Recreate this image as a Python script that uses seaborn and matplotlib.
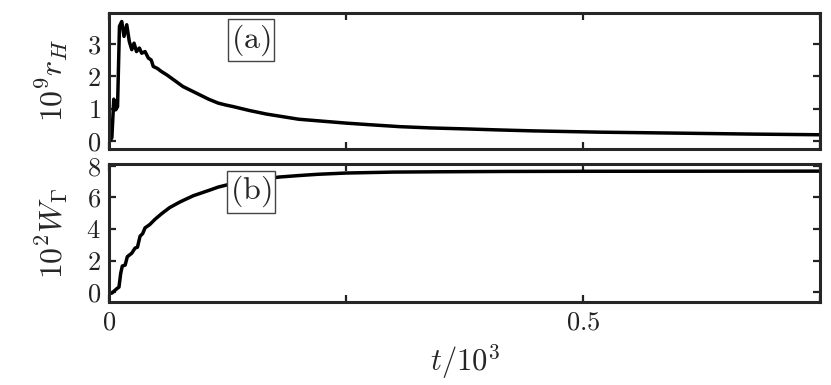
import matplotlib
matplotlib.use("Agg")
import matplotlib.pyplot as plt
import numpy as np
import pandas as pd
import seaborn as sns

# panel (a): 10^9 r_H against t/10^3
t_a = [0.001, 0.003, 0.005, 0.007, 0.009, 0.011, 0.0134, 0.0158, 0.0187, 0.0214,
       0.024, 0.0264, 0.029, 0.032, 0.0345, 0.038, 0.0415, 0.0445, 0.0467, 0.051,
       0.055, 0.061, 0.07, 0.078, 0.087, 0.096, 0.105, 0.115, 0.123, 0.131,
       0.148, 0.166, 0.183, 0.2, 0.225, 0.25, 0.275, 0.307, 0.34, 0.377, 0.41,
       0.447, 0.518, 0.6, 0.68, 0.75]
r_h = [0.0, 0.1, 1.29, 0.96, 1.06, 3.54, 3.69, 3.23, 3.59, 3.07,
       2.82, 3.02, 2.76, 2.87, 2.71, 2.76, 2.56, 2.50, 2.30, 2.24,
       2.15, 2.04, 1.85, 1.68, 1.55, 1.42, 1.29, 1.17, 1.11, 1.06,
       0.94, 0.83, 0.75, 0.67, 0.61, 0.55, 0.50, 0.44, 0.40, 0.37, 0.34,
       0.31, 0.27, 0.24, 0.21, 0.19]

# panel (b): 10^2 W_Gamma against t/10^3
t_b = [0.001, 0.003, 0.008, 0.0105, 0.0123, 0.014, 0.017, 0.0193, 0.024, 0.0274,
       0.030, 0.0327, 0.0355, 0.038, 0.043, 0.0485, 0.0556, 0.064, 0.075, 0.089,
       0.1066, 0.115, 0.125, 0.14, 0.16, 0.18, 0.2, 0.22, 0.25, 0.3, 0.35,
       0.42, 0.5, 0.75]
w_g = [-0.05, -0.04, 0.23, 0.34, 1.2, 1.67, 1.73, 2.26, 2.48, 2.8,
       2.86, 3.55, 3.72, 4.08, 4.29, 4.62, 4.98, 5.36, 5.72, 6.11,
       6.47, 6.65, 6.8, 6.95, 7.15, 7.29, 7.38, 7.46, 7.54, 7.6, 7.62,
       7.64, 7.65, 7.66]

x_ticks = [0, 0.25, 0.5, 0.75]
x_labels = ['$0$', '', '$0.5$', '']
ya_ticks = [0, 1, 2, 3]
yb_ticks = [0, 2, 4, 6, 8]

sns.set_style('ticks')
plt.rcParams['mathtext.fontset'] = 'cm'
plt.rcParams['font.family'] = ['serif']
plt.rcParams['font.serif'] = ['cmr10', 'DejaVu Serif']
plt.rcParams['axes.unicode_minus'] = False

df_a = pd.DataFrame({'t': t_a, 'v': r_h})
df_b = pd.DataFrame({'t': t_b, 'v': w_g})

fig = plt.figure(figsize=(8.31, 3.85), dpi=100)
ax1 = fig.add_axes([0.1312, 0.613, 0.8556, 0.353])
ax2 = fig.add_axes([0.1312, 0.2156, 0.8556, 0.358])

sns.lineplot(data=df_a, x='t', y='v', ax=ax1, color='black', linewidth=2.5)
sns.lineplot(data=df_b, x='t', y='v', ax=ax2, color='black', linewidth=2.5)

for ax in (ax1, ax2):
    ax.set_xlim(0, 0.75)
    ax.set_xticks(x_ticks)
    ax.tick_params(direction='in', length=5, width=1.6, top=True, right=True,
                   labelsize=19, colors='#222222', pad=6)
    for s in ax.spines.values():
        s.set_linewidth(2.2)
        s.set_color('#262626')

ax1.set_ylim(-0.25, 3.95)
ax1.set_yticks(ya_ticks)
ax1.set_yticklabels(['$%d$' % v for v in ya_ticks])
ax1.set_xticklabels([])
ax1.set_xlabel('')
ax1.set_ylabel(r'$10^9 r_H$', fontsize=23, labelpad=12)

ax2.set_ylim(-0.6, 8.1)
ax2.set_yticks(yb_ticks)
ax2.set_yticklabels(['$%d$' % v for v in yb_ticks])
ax2.set_xticklabels(x_labels)
ax2.set_xlabel(r'$t/10^3$', fontsize=22, labelpad=6)
ax2.set_ylabel(r'$10^2 W_\Gamma$', fontsize=23, labelpad=12)

box = dict(boxstyle='square,pad=0.1', facecolor='white', edgecolor='#444444', linewidth=1.0)
ax1.text(0.2, 0.80, r'$\mathrm{(a)}$', transform=ax1.transAxes, fontsize=23,
         ha='center', va='center', bbox=box, zorder=5)
ax2.text(0.2, 0.80, r'$\mathrm{(b)}$', transform=ax2.transAxes, fontsize=23,
         ha='center', va='center', bbox=box, zorder=5)

fig.savefig('out.png', dpi=100)
